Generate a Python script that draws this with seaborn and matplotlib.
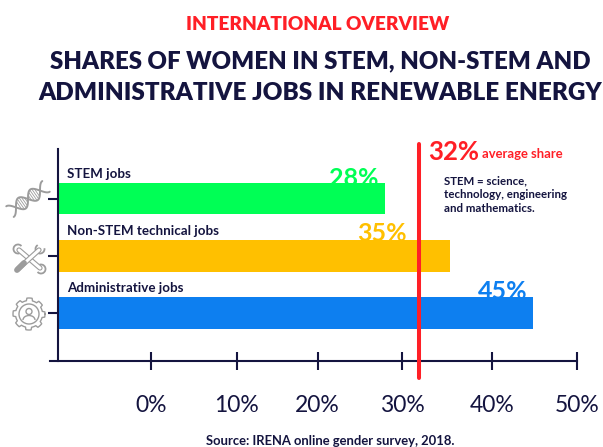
import numpy as np, pandas as pd
import matplotlib
matplotlib.use("Agg")
import matplotlib.pyplot as plt
from matplotlib.patches import Circle, Arc
import seaborn as sns

categories = ["STEM jobs", "Non-STEM technical jobs", "Administrative jobs"]
shares = [28, 35.5, 45]   # bar lengths as drawn in the source
value_labels = ["28%", "35%", "45%"]
bar_colors = ["#00FF55", "#FFC000", "#0D7FF0"]
average_share = 32
# the source prints its ticks a little off the scale of its bars, read here as drawn
tick_spots = [1.2, 11.0, 20.3, 30.0, 40.3, 50.1]
tick_labels = ["0%", "10%", "20%", "30%", "40%", "50%"]

NAVY = "#14143F"; RED = "#FF1F26"; GREY = "#9C9C9C"
W, H = 603, 447

sns.set_theme(style="white")
plt.rcParams["font.family"] = ["Lato", "DejaVu Sans"]

fig = plt.figure(figsize=(W/100, H/100), dpi=100)
ax = fig.add_axes([0, 1-361/H, 1, (361-149)/H])
ov = fig.add_axes([0, 0, 1, 1])   # pixel layer for texts and icons
ov.set_xlim(0, W); ov.set_ylim(H, 0); ov.axis("off"); ov.patch.set_alpha(0)

df = pd.DataFrame({"job": categories, "share": shares})
sns.barplot(df, x="share", y="job", hue="job", palette=bar_colors, saturation=1,
            width=0.544, legend=False, ax=ax, zorder=3)
x_left = -9.54
ax.set_xlim(-16.2, 53.1)
ax.set_ylim(2.842, -0.877)
for p in ax.patches:   # bars grow from the axis line, not from 0%
    right = p.get_x() + p.get_width()
    p.set_x(x_left); p.set_width(right - x_left)
    p.set_linewidth(0)

ax.set_xlabel(""); ax.set_ylabel("")
for s in ["top", "right"]:
    ax.spines[s].set_visible(False)
ax.spines["left"].set_position(("data", x_left))
ax.spines["bottom"].set_bounds(-10.46, 50.1)
for s in ["left", "bottom"]:
    ax.spines[s].set_color(NAVY); ax.spines[s].set_linewidth(1.5); ax.spines[s].set_zorder(5)
ax.set_xticks(tick_spots, tick_labels)
ax.tick_params(axis="x", direction="inout", length=13, width=1.5, color=NAVY, bottom=True,
               pad=18, labelsize=16.5, labelcolor=NAVY)
ax.tick_params(axis="y", direction="inout", length=14.5, width=1.5, color=NAVY, left=True,
               labelleft=False)
for t in ax.xaxis.get_majorticklabels():
    t.set_fontweight("normal")

ax.axvline(average_share, ymin=-0.08, ymax=1.0236, color=RED, lw=2.9, clip_on=False, zorder=6)

# value labels sit behind the bars, as in the source
for lab, c, xr, yb in zip(value_labels, bar_colors, [378, 407, 528], [186, 241, 299]):
    ax.text(xr, yb, lab, color=c, fontsize=18, fontweight="bold", ha="right", va="baseline",
            transform=ov.transData, zorder=2)
for lab, yc in zip(categories, [174, 231, 288]):
    ov.text(67, yc, lab, color=NAVY, fontsize=9.6, fontweight="bold", va="center")

ov.text(318, 25, "INTERNATIONAL OVERVIEW", color=RED, fontsize=13.7, fontweight="heavy", ha="center", va="center")
ov.text(320, 61, "SHARES OF WOMEN IN STEM, NON-STEM AND", color=NAVY, fontsize=17.3, fontweight="heavy", ha="center", va="center")
ov.text(320, 93, "ADMINISTRATIVE JOBS IN RENEWABLE ENERGY", color=NAVY, fontsize=17.45, fontweight="heavy", ha="center", va="center")
ov.text(428, 160, "32%", color=RED, fontsize=18.5, fontweight="bold", va="baseline")
ov.text(482, 154, "average share", color=RED, fontsize=9.4, fontweight="bold", va="center")
for line, yc in zip(["STEM = science,", "technology, engineering", "and mathematics."], [181, 195, 208]):
    ov.text(444, yc, line, color=NAVY, fontsize=8.3, fontweight="bold", va="center")
ov.text(330, 441, "Source: IRENA online gender survey, 2018.", color=NAVY, fontsize=9.4, fontweight="bold", ha="center", va="center")

# icons
def dna(cx, cy):
    t = np.linspace(-1, 1, 80)
    ang = np.radians(-35)
    for ph in (0, np.pi):
        u = 22*t; v = 6.5*np.sin(t*1.5*np.pi + ph)
        ov.plot(cx+u*np.cos(ang)-v*np.sin(ang), cy+u*np.sin(ang)+v*np.cos(ang), color=GREY, lw=1.4)
    for k in np.linspace(-0.5, 0.5, 11):
        u = 22*k; v = 6.5*np.sin(k*1.5*np.pi)
        ov.plot([cx+u*np.cos(ang)-v*np.sin(ang), cx+u*np.cos(ang)+v*np.sin(ang)],
                [cy+u*np.sin(ang)+v*np.cos(ang), cy+u*np.sin(ang)-v*np.cos(ang)], color=GREY, lw=0.6)

def tools(cx, cy):
    for (x0, y0, x1, y1) in [(-10, -9, 11, 9), (-11, 10, 10, -9)]:
        ov.plot([cx+x0, cx+x1], [cy+y0, cy+y1], color=GREY, lw=3.8, solid_capstyle="round")
        ov.plot([cx+x0, cx+x1], [cy+y0, cy+y1], color="white", lw=2.2, solid_capstyle="round")
    # open jaws on the wrench ends, fat handle on the driver
    for hx, hy, a1, a2 in [(-11, -10, 70, 320), (12, 10, 250, 140), (11, -10, 350, 240)]:
        ov.add_patch(Arc((cx+hx, cy+hy), 9, 9, theta1=a1, theta2=a2, color=GREY, lw=1.3))
    ov.plot([cx-12, cx-5], [cy+11, cy+4], color=GREY, lw=4.2, solid_capstyle="round")

def gear(cx, cy):
    a = np.linspace(0, 2*np.pi, 97)
    r = 13.5 + 2.5*(np.cos(8*a) > 0)
    ov.plot(cx+r*np.cos(a), cy+r*np.sin(a), color=GREY, lw=1)
    ov.add_patch(Circle((cx, cy), 10, fill=False, ec=GREY, lw=1))
    ov.add_patch(Circle((cx, cy-2.5), 3, fill=False, ec=GREY, lw=1))
    ov.add_patch(Arc((cx, cy+6), 12, 9, theta1=180, theta2=360, color=GREY, lw=1))

dna(28, 199); tools(29, 259); gear(29, 314)

fig.savefig("out.png", dpi=100)
